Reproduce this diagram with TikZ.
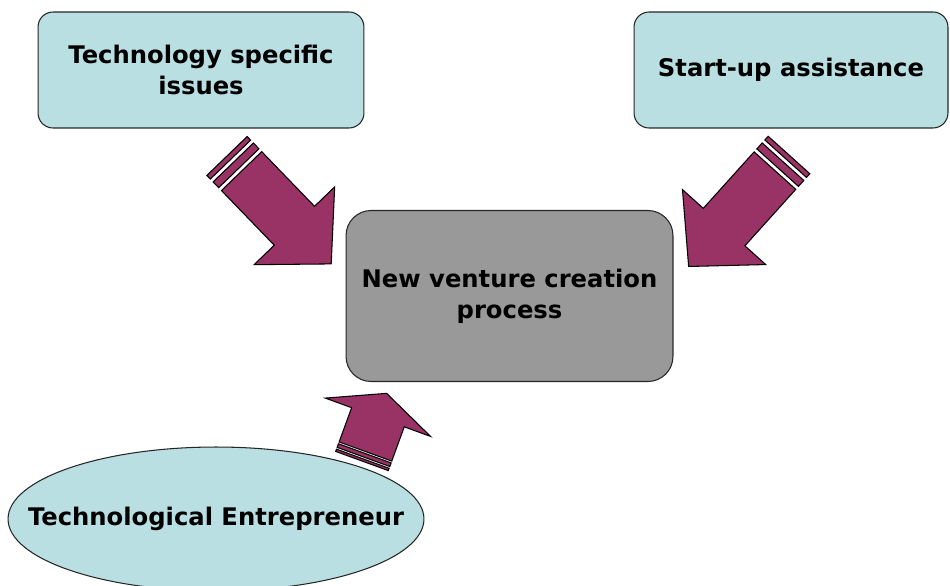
\documentclass[tikz,border=0pt]{standalone}
\usepackage{fontspec}
\setmainfont{DejaVu Sans}
\usetikzlibrary{shapes.geometric}

\definecolor{boxcyan}{HTML}{BADFE2}
\definecolor{boxgray}{HTML}{999999}
\definecolor{arrowplum}{HTML}{993366}

\tikzset{
  stripearrow/.pic={
    \filldraw[fill=arrowplum, draw=black, line width=0.6pt] (0,-28) rectangle (5,28);
    \filldraw[fill=arrowplum, draw=black, line width=0.6pt] (9,-28) rectangle (17,28);
    \filldraw[fill=arrowplum, draw=black, line width=0.6pt]
      (21,-28) -- (97,-28) -- (97,-56) -- (150,0) -- (97,56) -- (97,28) -- (21,28) -- cycle;
  }
}

\begin{document}
\begin{tikzpicture}[x=0.02cm, y=-0.02cm,
  font=\fontsize{13.8pt}{17.5pt}\selectfont\bfseries,
  topbox/.style={draw=black!85, line width=0.6pt, rounded corners=0.3cm,
                 fill=boxcyan, align=center, inner sep=0pt},
  core/.style={draw=black!85, line width=0.6pt, rounded corners=0.5cm,
               fill=boxgray, align=center, inner sep=0pt,
               minimum width=6.54cm, minimum height=3.42cm},
  entre/.style={draw=black!85, line width=0.6pt, ellipse, fill=boxcyan,
                inner sep=0pt, minimum width=8.32cm, minimum height=2.88cm}
]
  \clip (0,0) rectangle (950,585);

  \node[topbox, minimum width=6.52cm, minimum height=2.32cm] (tech) at (201,70)
        {Technology specific\\issues};
  \node[topbox, minimum width=6.28cm, minimum height=2.32cm] (assist) at (791,70)
        {Start-up assistance};
  \node[core] (core) at (509.5,296) {New venture creation\\process};
  \node[entre] (entre) at (216,519) {};
  \node (entretext) at (entre.center) {Technological Entrepreneur};

  % striped block arrows
  \pic[rotate=-46] (techarrow) at (227,156) {stripearrow};
  \pic[rotate=-132] (assistarrow) at (789,155) {stripearrow};
  \pic[rotate=70, xscale=0.48] (entrearrow) at (362,461) {stripearrow};
\end{tikzpicture}
\end{document}
